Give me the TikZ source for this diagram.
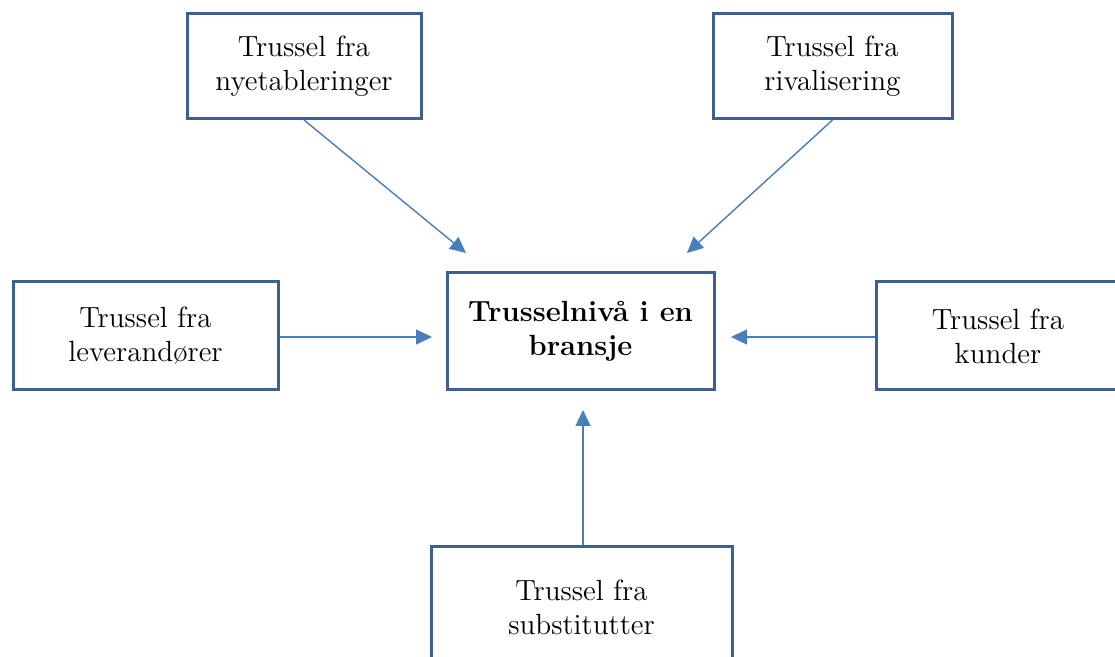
\documentclass[tikz,border=0pt]{standalone}
\usepackage{tikz}
\usepackage{xcolor}
\usetikzlibrary{arrows.meta}
\definecolor{boxblue}{RGB}{62,96,145}
\definecolor{arrowblue}{RGB}{74,126,187}
\tikzset{
    threat-box/.style = {draw=boxblue, fill=white, line width=1.5pt, rectangle, align=center, inner sep=0pt, font=\fontsize{14.6}{17}\selectfont},
    level-box/.style = {threat-box, font=\fontsize{14.6}{17}\selectfont\bfseries},
    threat-arrow/.style = {draw=arrowblue, line width=0.7pt, -{Triangle[length=8pt,width=7.5pt]}},
}
\begin{document}
\begin{tikzpicture}[x=0.5pt, y=-0.5pt]
\useasboundingbox (0,0) rectangle (1115,657);
\clip (0,0) rectangle (1115,657);
\node [level-box, minimum width=133.5pt, minimum height=58.5pt] (niva) at (580.5,331.5) {Trusselnivå i en\\bransje};
\node [threat-box, minimum width=117pt, minimum height=52.5pt] (nye) at (304,66) {Trussel fra\\nyetableringer};
\node [threat-box, minimum width=119.5pt, minimum height=52.5pt] (riv) at (832.5,66) {Trussel fra\\rivalisering};
\node [threat-box, minimum width=132.5pt, minimum height=54pt] (lev) at (145.5,336) {Trussel fra\\leverandører};
\node [threat-box, minimum width=122pt, minimum height=54pt] (kun) at (998,336) {Trussel fra\\kunder};
\node [threat-box, minimum width=150.5pt, minimum height=60pt] (sub) at (581.5,607) {Trussel fra\\substitutter};
% arrow tips stop short of the centre box
\coordinate (nye-tip) at (466,253);
\coordinate (riv-tip) at (687,253);
\coordinate (lev-tip) at (432,337);
\coordinate (kun-tip) at (731,337);
\coordinate (sub-tip) at (583,410);
\draw [threat-arrow] (nye.south) -- (nye-tip);
\draw [threat-arrow] (riv.south) -- (riv-tip);
\draw [threat-arrow] (lev.east |- lev-tip) -- (lev-tip);
\draw [threat-arrow] (kun.west |- kun-tip) -- (kun-tip);
\draw [threat-arrow] (sub.north -| sub-tip) -- (sub-tip);
\end{tikzpicture}
\end{document}
